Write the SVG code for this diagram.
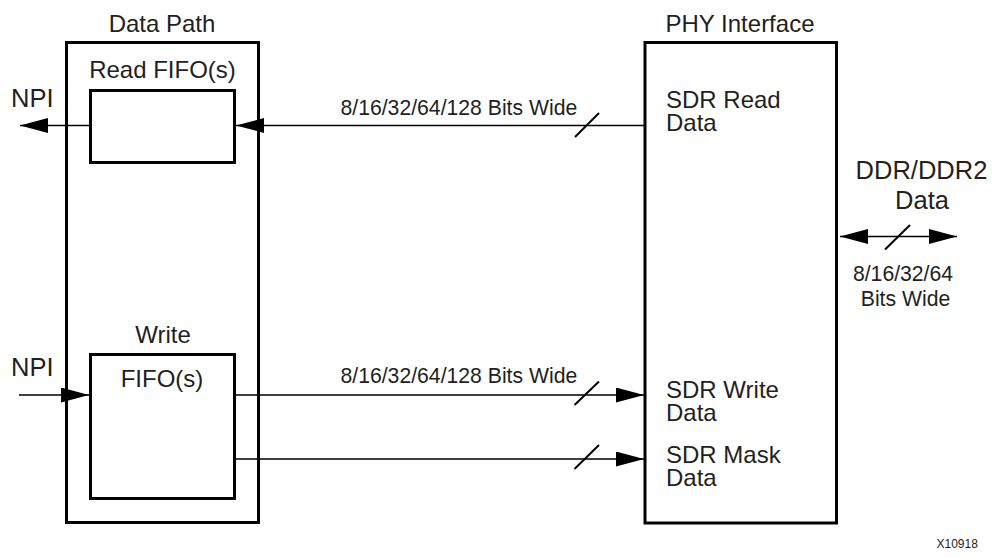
<svg xmlns="http://www.w3.org/2000/svg" width="992" height="558" viewBox="0 0 992 558">
<defs>
<style>
.box{fill:#fff;stroke:#000;stroke-width:3}
.ln{fill:none;stroke:#000;stroke-width:1.4}
.sl{fill:none;stroke:#000;stroke-width:2}
text{font-family:"Liberation Sans",Arial,sans-serif;fill:#231f20}
.t{font-size:24px}
.n{font-size:25.5px}
.s{font-size:21.2px}
.x{font-size:12px}
.m{text-anchor:middle}
</style>
<marker id="ah" viewBox="0 0 28 15" refX="28" refY="7.5" markerWidth="28" markerHeight="15" markerUnits="userSpaceOnUse" orient="auto-start-reverse">
<path d="M0,0 L28,7.5 L0,15 Z" fill="#000"/>
</marker>
</defs>
<rect width="992" height="558" fill="#fff"/>
<g id="data-path">
<rect class="box" x="66.5" y="42.5" width="192" height="480"/>
<text class="t m" x="162" y="32">Data Path</text>
</g>
<g id="read-fifo">
<rect class="box" x="90.5" y="90.5" width="144" height="72"/>
<text class="t m" x="162.5" y="78">Read FIFO(s)</text>
</g>
<g id="write-fifo">
<rect class="box" x="90.5" y="354.5" width="144" height="144"/>
<text class="t m" x="163" y="343">Write</text>
<text class="t m" x="162" y="386.5">FIFO(s)</text>
</g>
<g id="phy">
<rect class="box" x="645" y="42.5" width="191.5" height="480.5"/>
<text class="t m" x="740" y="31.5">PHY Interface</text>
<text class="t" x="666" y="107.5">SDR Read</text>
<text class="t" x="666" y="131">Data</text>
<text class="t" x="666" y="397.5">SDR Write</text>
<text class="t" x="666" y="421">Data</text>
<text class="t" x="666" y="462.5">SDR Mask</text>
<text class="t" x="666" y="486">Data</text>
</g>
<g id="labels">
<text class="n" x="11" y="106.5">NPI</text>
<text class="n" x="11" y="376">NPI</text>
<text class="n m" x="921.5" y="179">DDR/DDR2</text>
<text class="n m" x="922" y="209">Data</text>
<text class="s m" x="903" y="280.5">8/16/32/64</text>
<text class="s m" x="905.5" y="305.5">Bits Wide</text>
<text class="s" x="340.5" y="115">8/16/32/64/128 Bits Wide</text>
<text class="s" x="340.5" y="383">8/16/32/64/128 Bits Wide</text>
<text class="x" x="936.5" y="548">X10918</text>
</g>
<g id="connectors">
<line class="ln" x1="645" y1="125.5" x2="236" y2="125.5" marker-end="url(#ah)"/>
<line class="sl" x1="575" y1="137" x2="599" y2="113"/>
<line class="ln" x1="90" y1="125.5" x2="20" y2="125.5" marker-end="url(#ah)"/>
<line class="ln" x1="19" y1="395" x2="89" y2="395" marker-end="url(#ah)"/>
<line class="ln" x1="236" y1="395" x2="644" y2="395" marker-end="url(#ah)"/>
<line class="sl" x1="574.5" y1="405" x2="599" y2="381.5"/>
<line class="ln" x1="236" y1="459" x2="644" y2="459" marker-end="url(#ah)"/>
<line class="sl" x1="574.5" y1="469" x2="599" y2="445"/>
<line class="ln" x1="840" y1="236.5" x2="957" y2="236.5" marker-start="url(#ah)" marker-end="url(#ah)"/>
<line class="sl" x1="885" y1="249.5" x2="910" y2="225"/>
</g>
</svg>
